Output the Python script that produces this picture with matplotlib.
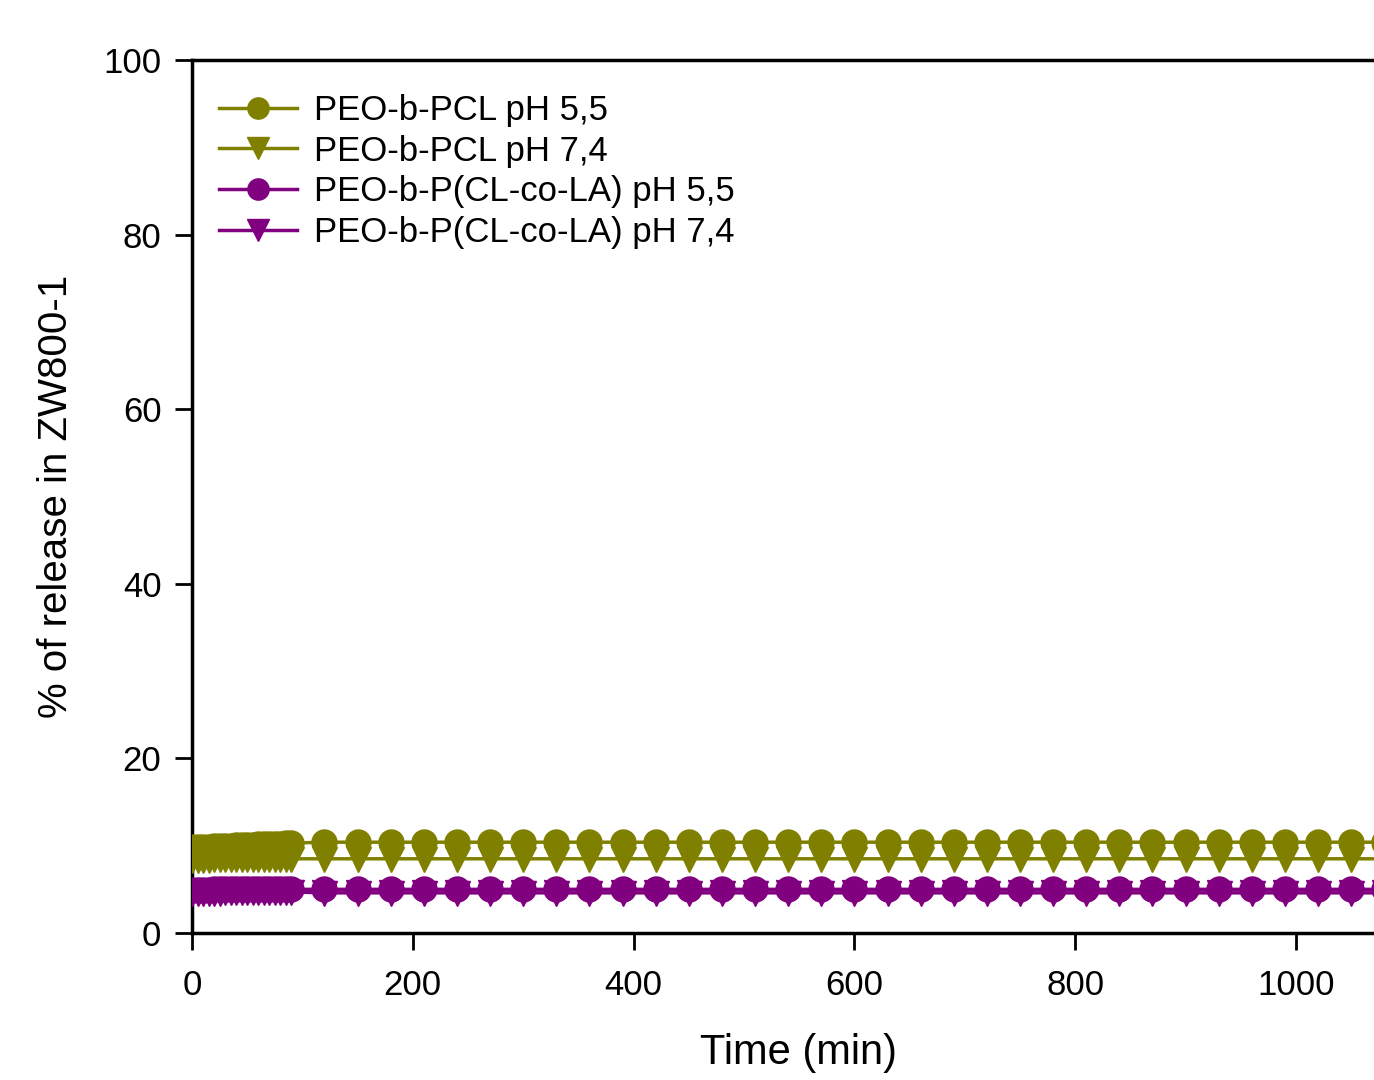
import numpy as np
import matplotlib
matplotlib.use("Agg")
import matplotlib.pyplot as plt

plt.rcParams['font.family'] = ['Liberation Sans', 'DejaVu Sans']

# Data
time_early = [0, 5, 10, 15, 20, 25, 30, 35, 40, 45, 50, 55, 60, 65, 70, 75, 80, 85, 90]
time_late = list(range(120, 1081, 30))
time = time_early + time_late

pcl_55 = [9.8, 9.8, 9.9, 9.9, 10.0, 10.0, 10.0, 10.0, 10.1, 10.1, 10.1, 10.1,
          10.2, 10.2, 10.2, 10.2, 10.2, 10.3, 10.3] + [10.4] * len(time_late)
pcl_74 = [8.4, 8.4, 8.4, 8.4, 8.5, 8.5, 8.5, 8.5, 8.5, 8.5, 8.5, 8.5,
          8.5, 8.5, 8.5, 8.5, 8.5, 8.5, 8.5] + [8.5] * len(time_late)
cola_55 = [4.9, 4.9, 4.9, 4.9, 5.0, 5.0, 5.0, 5.0, 5.0, 5.0, 5.0, 5.0,
           5.0, 5.0, 5.0, 5.0, 5.0, 5.0, 5.0] + [5.0] * len(time_late)
cola_74 = [4.6, 4.6, 4.6, 4.6, 4.6, 4.6, 4.7, 4.7, 4.7, 4.7, 4.7, 4.7,
           4.7, 4.7, 4.7, 4.7, 4.7, 4.7, 4.7] + [4.6] * len(time_late)

labels = ["PEO-b-PCL pH 5,5", "PEO-b-PCL pH 7,4",
          "PEO-b-P(CL-co-LA) pH 5,5", "PEO-b-P(CL-co-LA) pH 7,4"]
olive = "#808000"
purple = "#800080"

fig = plt.figure(figsize=(13.74, 10.8), dpi=100)
ax = fig.add_axes([192/1374, (1080-933)/1080, (1374-192)/1374, (933-60)/1080])

ms = 18
lw = 2.5
ax.plot(time, pcl_74, color=olive, marker='v', ms=ms, lw=lw, label=labels[1], zorder=3)
ax.plot(time, pcl_55, color=olive, marker='o', ms=ms, lw=lw, label=labels[0], zorder=4)
ax.plot(time, cola_74, color=purple, marker='v', ms=ms, lw=lw, label=labels[3], zorder=3)
ax.plot(time, cola_55, color=purple, marker='o', ms=ms, lw=lw, label=labels[2], zorder=4)

ax.set_xlim(0, (1374-192)/1.104)
ax.set_ylim(0, 100)
ax.set_xticks([0, 200, 400, 600, 800, 1000])
ax.set_yticks([0, 20, 40, 60, 80, 100])
ax.tick_params(axis='both', direction='out', length=12, width=2, labelsize=25)
ax.tick_params(axis='x', pad=14)
ax.tick_params(axis='y', pad=10)
for s in ['left', 'bottom', 'top']:
    ax.spines[s].set_linewidth(2.5)
ax.spines['right'].set_visible(False)

ax.set_xlabel("Time (min)", fontsize=30)
ax.xaxis.set_label_coords(0.513, -0.115)
ax.set_ylabel("% of release in ZW800-1", fontsize=29)
ax.yaxis.set_label_coords(-0.099, 0.5)

h, l = ax.get_legend_handles_labels()
order = [l.index(x) for x in labels]
leg = ax.legend([h[i] for i in order], [l[i] for i in order], loc='upper left',
                bbox_to_anchor=(0.005, 0.985), frameon=False, fontsize=25,
                markerscale=0.85, handlelength=2.25, handletextpad=0.5,
                labelspacing=0.22, borderaxespad=0.2)

fig.savefig("out.png", dpi=100)
